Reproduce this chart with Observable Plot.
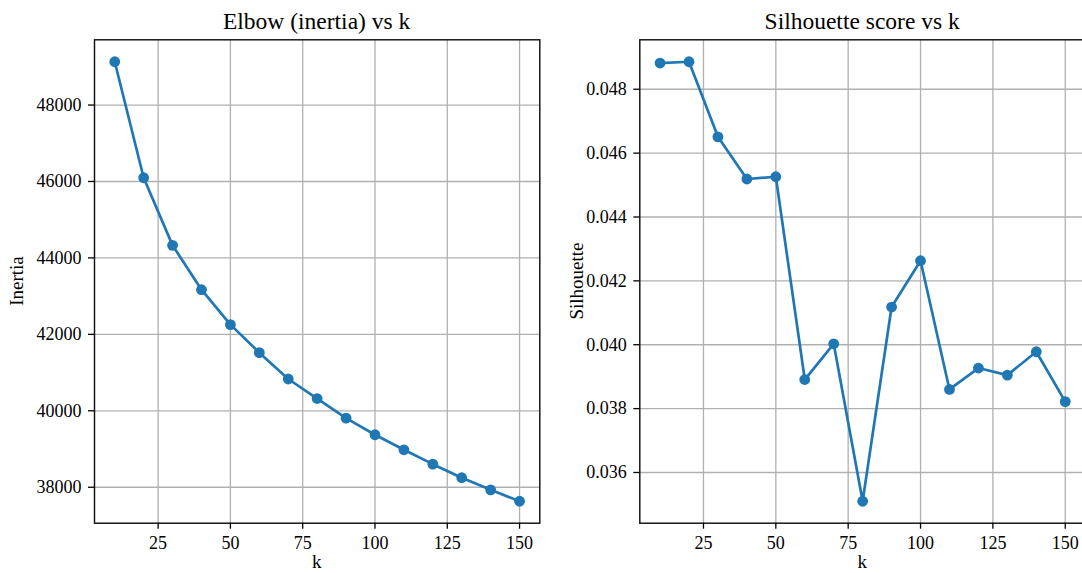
<!DOCTYPE html>
<html>
<head>
<meta charset="utf-8">
<script src="https://cdn.jsdelivr.net/npm/d3@7"></script>
<script src="https://cdn.jsdelivr.net/npm/@observablehq/plot@0.6"></script>
<style>
  html, body { margin: 0; padding: 0; background: #fff; overflow: hidden; }
  #wrap { position: relative; width: 1082px; height: 573px; overflow: hidden; background: #fff; }
  #wrap svg { position: absolute; top: 0; font-family: 'Liberation Serif', 'DejaVu Serif', serif !important; }
  #wrap svg text { font-family: 'Liberation Serif', 'DejaVu Serif', serif !important; }
</style>
</head>
<body>
<div id="wrap"></div>
<script>
const ks = [10, 20, 30, 40, 50, 60, 70, 80, 90, 100, 110, 120, 130, 140, 150];
const inertia = [49132, 46097, 44329, 43168, 42254, 41522, 40832, 40321, 39807, 39373, 38980, 38604, 38249, 37932, 37634];
const silhouette = [0.04882, 0.04886, 0.04651, 0.04519, 0.04526, 0.03891, 0.04003, 0.03510, 0.04118, 0.04263, 0.03860, 0.03927, 0.03905, 0.03978, 0.03822];
const xTicks = [25, 50, 75, 100, 125, 150];
const inertiaTicks = [38000, 40000, 42000, 44000, 46000, 48000];
const silTicks = [0.036, 0.038, 0.040, 0.042, 0.044, 0.046, 0.048];
const titles = ["Elbow (inertia) vs k", "Silhouette score vs k"];
const yLabels = ["Inertia", "Silhouette"];
const xLabel = "k";

const FONT = "'Liberation Serif', 'DejaVu Serif', serif";
const BLUE = "#1f77b4";

function pad(vals) {
  const lo = d3.min(vals), hi = d3.max(vals), m = (hi - lo) * 0.05;
  return [lo - m, hi + m];
}

function panel({left, width, marginLeft, marginRight, values, yTicks, yFmt, title, ylabel, ylabelX}) {
  const data = ks.map((k, i) => ({k, v: values[i]}));
  const svg = Plot.plot({
    width, height: 573,
    marginLeft, marginRight, marginTop: 39.3, marginBottom: 50.3,
    style: {fontFamily: FONT, fontSize: "18px", color: "#000", background: "transparent", overflow: "visible"},
    x: {domain: pad(ks), ticks: xTicks},
    y: {domain: pad(values), ticks: yTicks},
    marks: [
      Plot.gridX(xTicks, {stroke: "#b0b0b0", strokeOpacity: 1, strokeWidth: 1.3}),
      Plot.gridY(yTicks, {stroke: "#b0b0b0", strokeOpacity: 1, strokeWidth: 1.3}),
      Plot.line(data, {x: "k", y: "v", stroke: BLUE, strokeWidth: 2.7}),
      Plot.dot(data, {x: "k", y: "v", r: 5.4, fill: BLUE, stroke: "none"}),
      Plot.frame({stroke: "#111", strokeWidth: 1.45}),
      Plot.axisX(xTicks, {tickSize: 6, tickPadding: 7.5, strokeWidth: 1.3, label: null, fontSize: 18, fontFamily: FONT}),
      Plot.axisY(yTicks, {tickSize: 6, tickPadding: 7, strokeWidth: 1.3, label: null, tickFormat: yFmt, fontSize: 18, fontFamily: FONT})
    ]
  });
  svg.style.left = left + "px";
  svg.style.fontFamily = FONT;
  const s = d3.select(svg);
  const cx = marginLeft + (width - marginLeft - marginRight) / 2;
  s.append("text").attr("x", cx).attr("y", 29).attr("text-anchor", "middle")
    .attr("font-family", FONT).attr("font-size", 23.5).attr("fill", "#000").text(title);
  s.append("text").attr("x", cx).attr("y", 568).attr("text-anchor", "middle")
    .attr("font-family", FONT).attr("font-size", 19).attr("fill", "#000").text(xLabel);
  s.append("text").attr("transform", `translate(${ylabelX},281) rotate(-90)`).attr("text-anchor", "middle")
    .attr("font-family", FONT).attr("font-size", 19).attr("fill", "#000").text(ylabel);
  document.getElementById("wrap").appendChild(svg);
}

panel({left: 0, width: 545, marginLeft: 94, marginRight: 5.7, values: inertia,
  yTicks: inertiaTicks, yFmt: d => String(d), title: titles[0], ylabel: yLabels[0], ylabelX: 23});
panel({left: 540, width: 550, marginLeft: 99.3, marginRight: 5, values: silhouette,
  yTicks: silTicks, yFmt: d3.format(".3f"), title: titles[1], ylabel: yLabels[1], ylabelX: 43});
</script>
</body>
</html>
